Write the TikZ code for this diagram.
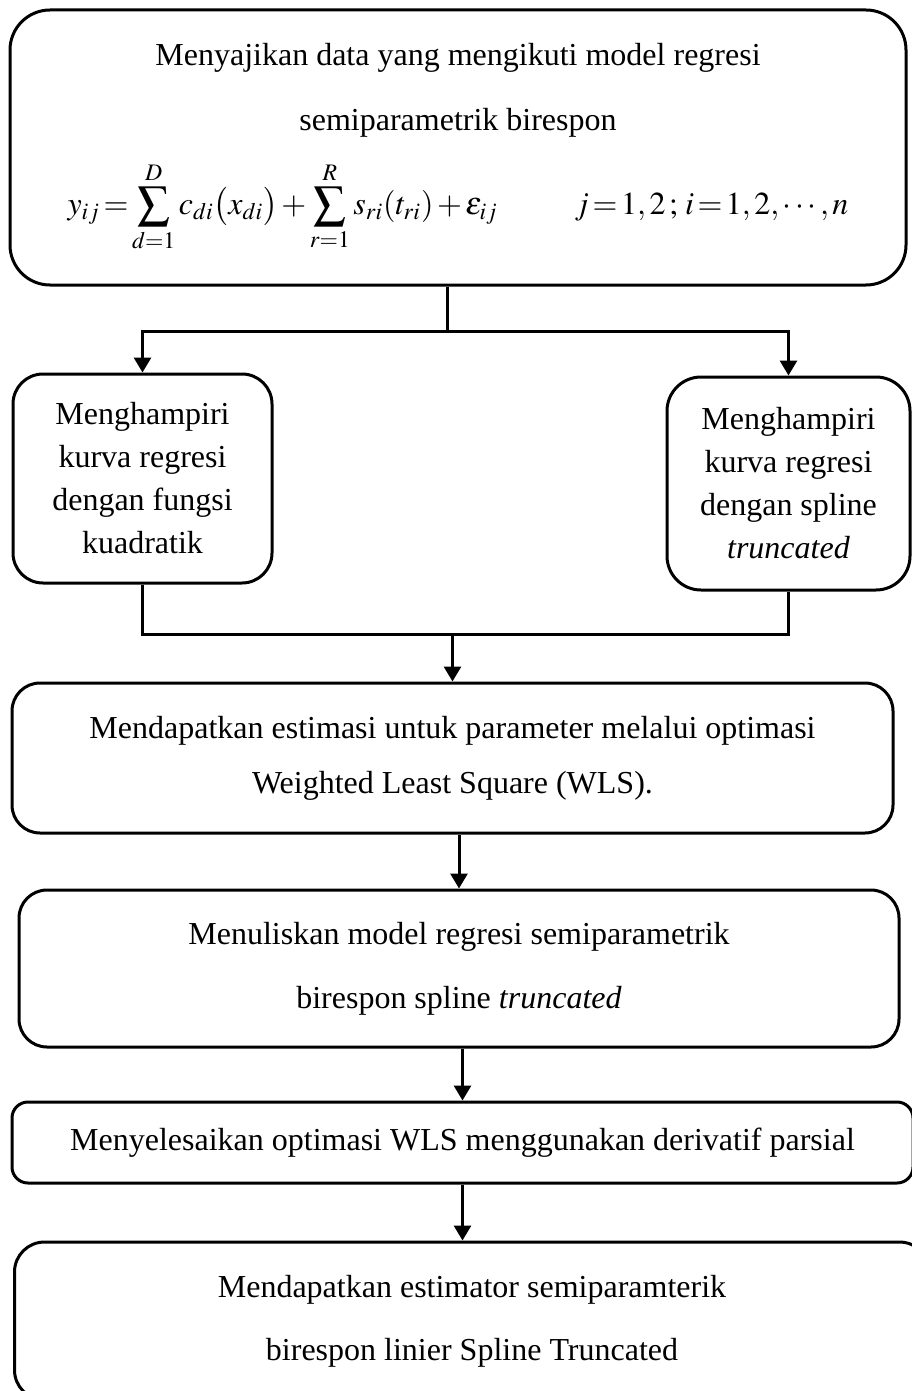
\documentclass[tikz,border=0pt]{standalone}
\usepackage{mathptmx}
\usepackage{fontspec}
\setmainfont{Liberation Serif}
\usetikzlibrary{arrows.meta,positioning,calc}

\begin{document}
\begin{tikzpicture}[x=0.5pt,y=-0.5pt,line width=1.5pt,
  box/.style={draw,align=center,inner sep=0pt,font=\fontsize{16}{#1}\selectfont},
  box/.default={21.5},
  arr/.style={-{Triangle[width=8.5pt,length=7.5pt]}}]
\useasboundingbox (0,0) rectangle (911,1391);
\node[box=32.5,rounded corners=20pt,minimum width=448pt,minimum height=137.5pt] (data) at (458,147.5)
  {Menyajikan data yang mengikuti model regresi\\ semiparametrik birespon\\[9.5pt]
   $\thickmuskip=2mu \medmuskip=2mu \displaystyle y_{ij}=\sum_{d=1}^{D}c_{di}\bigl(x_{di}\bigr)+\sum_{r=1}^{R}s_{ri}(t_{ri})+\varepsilon_{ij}\hspace{2.4em}j=1,2\;;\,i=1,2,\cdots,n$};
\node[box,rounded corners=15pt,minimum width=129.5pt,minimum height=104.5pt] (quad) at (142.5,478.5)
  {Menghampiri\\ kurva regresi\\ dengan fungsi\\ kuadratik};
\node[box,rounded corners=17pt,minimum width=121.5pt,minimum height=106.5pt] (spline) at (788.5,483.5)
  {Menghampiri\\ kurva regresi\\ dengan spline\\ \textit{truncated}};
\node[box=27.5,rounded corners=14pt,minimum width=440.5pt,minimum height=75pt] (wls) at (452.5,758)
  {Mendapatkan estimasi untuk parameter melalui optimasi\\ Weighted Least Square (WLS).};
\node[box=32,rounded corners=14pt,minimum width=440pt,minimum height=78.5pt] (model) at (459,968.5)
  {Menuliskan model regresi semiparametrik\\ birespon spline \textit{truncated}};
\node[box,rounded corners=8pt,minimum width=450.5pt,minimum height=40.5pt] (solve) at (462.5,1142.5)
  {Menyelesaikan optimasi WLS menggunakan derivatif parsial};
\node[box=31.5,rounded corners=15pt,minimum width=457.5pt,minimum height=79pt] (result) at (472,1321)
  {Mendapatkan estimator semiparamterik\\ birespon linier Spline Truncated};

\draw ($(data.south)+(-11,0)$) -- ++(0,45) coordinate (split);
\draw[arr] (split) -| (quad.north);
\draw[arr] (split) -| (spline.north);
\draw (quad.south) -- ++(0,50) coordinate (join) -| (spline.south);
\draw[arr] (join -| wls.north) -- (wls.north);
\draw[arr] (model.north |- wls.south) -- (model.north);
\draw[arr] (solve.north |- model.south) -- (solve.north);
\draw[arr] (solve.south) -- (solve.south |- result.north);
\end{tikzpicture}
\end{document}
